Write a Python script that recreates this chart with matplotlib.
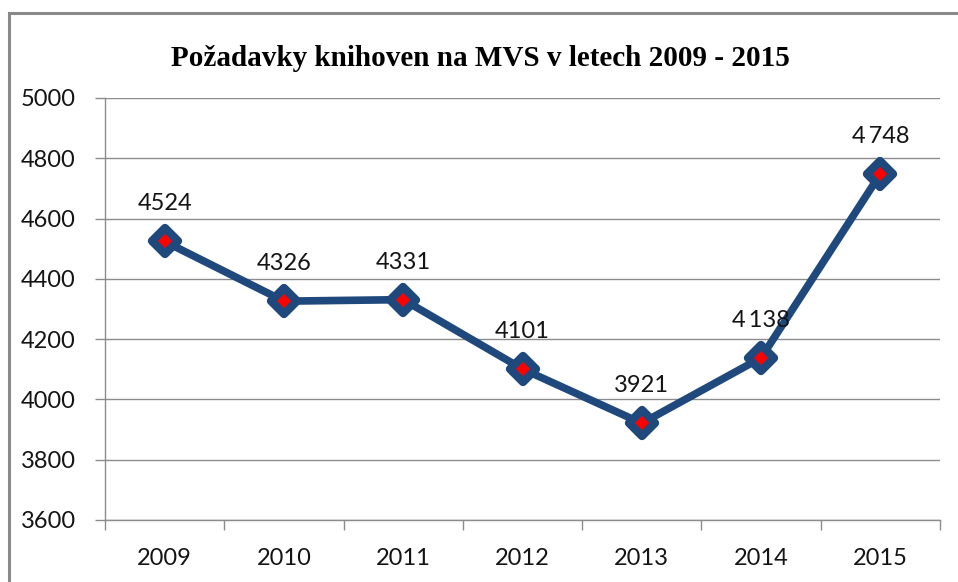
"""Požadavky knihoven na MVS v letech 2009 - 2015 (line chart, Excel style)."""

import matplotlib
matplotlib.use('Agg')
import matplotlib.pyplot as plt
from matplotlib.markers import MarkerStyle
from matplotlib.patches import Rectangle

# ---------------------------------------------------------------------------
# Data
# ---------------------------------------------------------------------------
years = ['2009', '2010', '2011', '2012', '2013', '2014', '2015']
requests = [4524, 4326, 4331, 4101, 3921, 4138, 4748]
point_labels = ['4524', '4326', '4331', '4101', '3921', '4\u2009138', '4\u2009748']
y_ticks = [3600, 3800, 4000, 4200, 4400, 4600, 4800, 5000]

# ---------------------------------------------------------------------------
# Style
# ---------------------------------------------------------------------------
LINE_BLUE = '#1F497D'
MARK_RED = '#FF0000'
GRID_GREY = '#8C8C8C'
TEXT_FONT = ['Lato', 'DejaVu Sans']
TITLE_FONT = ['Liberation Serif', 'DejaVu Serif']

fig = plt.figure(figsize=(9.58, 5.82), dpi=100)
ax = fig.add_axes([105 / 958, 1 - 520 / 582, 835 / 958, 422 / 582])

# outer chart frame (clipped on right / bottom like the screenshot)
fig.patches.append(Rectangle((9 / 958, -0.2), 1.2, 1.2 - 13 / 582,
                             transform=fig.transFigure, fill=False,
                             edgecolor='#8A8A8A', linewidth=2.2))

x = list(range(len(years)))
marker = MarkerStyle('D', joinstyle='round')
ax.plot(x, requests, color=LINE_BLUE, linewidth=5.5, zorder=3,
        solid_joinstyle='round',
        marker=marker, markersize=13, markeredgewidth=6,
        markeredgecolor=LINE_BLUE, markerfacecolor=MARK_RED)

for xi, val, lab in zip(x, requests, point_labels):
    ax.annotate(lab, xy=(xi, val), xytext=(0, 27), textcoords='offset points',
                ha='center', va='center', fontsize=17, family=TEXT_FONT,
                color='#141414')

ax.set_xlim(-0.5, len(years) - 0.5)
ax.set_ylim(y_ticks[0], y_ticks[-1])

ax.set_yticks(y_ticks)
ax.set_yticklabels([str(t) for t in y_ticks], family=TEXT_FONT, fontsize=17,
                   color='#141414')
ax.tick_params(axis='y', length=7, width=1, color=GRID_GREY, pad=14)

ax.set_xticks(x)
ax.set_xticklabels(years, family=TEXT_FONT, fontsize=17, color='#141414')
ax.set_xticks([i - 0.5 for i in range(len(years) + 1)], minor=True)
ax.tick_params(axis='x', which='major', length=0, pad=20)
ax.tick_params(axis='x', which='minor', length=7, width=1, color=GRID_GREY)

ax.grid(axis='y', color=GRID_GREY, linewidth=1)
ax.set_axisbelow(True)
for side in ('top', 'right'):
    ax.spines[side].set_visible(False)
for side in ('left', 'bottom'):
    ax.spines[side].set_color(GRID_GREY)
    ax.spines[side].set_linewidth(1)

fig.text(480 / 958, 1 - 58 / 582, 'Požadavky knihoven na MVS v letech 2009 - 2015',
         ha='center', va='center', fontsize=21, fontweight='bold',
         family=TITLE_FONT)

fig.savefig('out.png', dpi=100)
plt.close(fig)
